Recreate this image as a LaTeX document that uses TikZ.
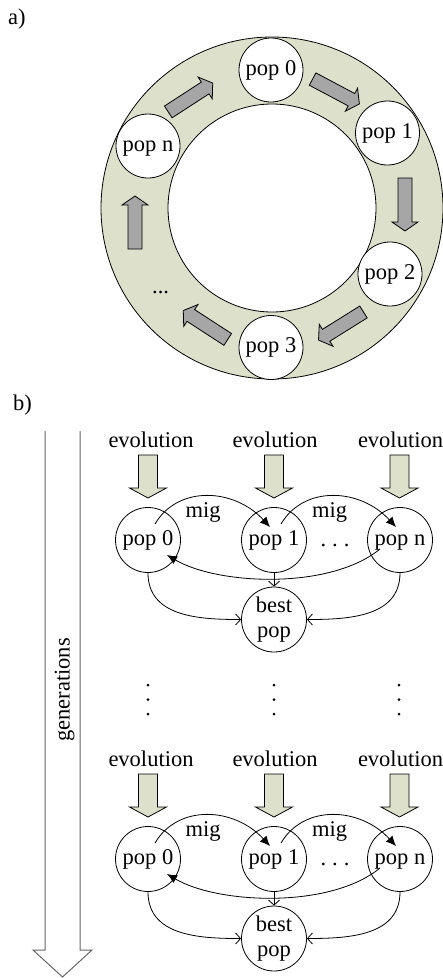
\documentclass[tikz,border=0pt]{standalone}
\usepackage{fontspec}
\setmainfont{Liberation Serif}
\usetikzlibrary{arrows.meta,calc}
\definecolor{ringfill}{HTML}{DDE0CB}
\definecolor{blockgray}{HTML}{A6A6A6}
\definecolor{gencol}{HTML}{666666}
\newcommand\blkarrow[3]{\draw[blockarrow,shift={(#1,#2)},rotate=#3] (-26.5,-7) -- (17.5,-7) -- (17.5,-13) -- (26.5,0) -- (17.5,13) -- (17.5,7) -- (-26.5,7) -- cycle;}
\begin{document}
\begin{tikzpicture}[x=1pt,y=-1pt,
  every node/.style={font=\fontsize{22.5pt}{25pt}\selectfont},
  ringpop/.style={circle,draw,fill=white,minimum size=64pt,inner sep=0pt,line width=0.8pt,text height=15pt,text depth=5pt},
  popnode/.style={circle,draw,minimum size=65pt,inner sep=0pt,line width=0.8pt,text height=15pt,text depth=5pt},
  bestnode/.style={circle,draw,minimum size=65pt,inner sep=0pt,line width=0.8pt,align=center},
  blockarrow/.style={draw,fill=blockgray,line width=0.8pt},
  evoarrow/.style={draw,fill=ringfill,line width=0.8pt},
  migarrow/.style={-{Latex[length=10pt,width=9pt]},line width=0.8pt},
  feedarrow/.style={-{Straight Barb[length=5pt,width=11pt]},line width=0.8pt},
  lbl/.style={anchor=base,inner sep=0pt},
  vdot/.style={circle,fill=black,inner sep=0pt,minimum size=3pt},
]
\useasboundingbox (0,0) rectangle (443,978);

% ---------- a) ----------
\node[anchor=base west,inner sep=0pt] (la) at (8,24) {a)};
\draw[fill=ringfill,line width=0.8pt] (272,208) circle[radius=171pt];
\draw[fill=white,line width=0.8pt] (272,208) circle[radius=104pt];

\blkarrow{336}{91.5}{-28}
\blkarrow{405}{204.5}{-90}
\blkarrow{341}{326}{-148}
\blkarrow{205.5}{325}{147}
\blkarrow{135}{222.5}{90}
\blkarrow{190.5}{97.5}{33}

\node[ringpop] (r0) at (271,70) {pop 0};
\node[ringpop] (r1) at (387.5,133) {pop 1};
\node[ringpop] (r2) at (390,274) {pop 2};
\node[ringpop] (r3) at (271,347.5) {pop 3};
\node[ringpop] (rn) at (148,146) {pop n};
\node[anchor=base west,inner sep=0pt] (rdots) at (152,293) {...};

% ---------- b) ----------
\node[anchor=base west,inner sep=0pt] (lb) at (13,410) {b)};
\draw[gencol,line width=1pt] (45,431) -- (45,950) -- (33,950) -- (62.5,977) -- (92,950) -- (80,950) -- (80,431);
\node[rotate=90,inner sep=0pt] (gen) at (64.5,690) {generations};

\foreach \r/\s in {0/a,319/b}{
\begin{scope}[shift={(0,\r)}]
  \node[lbl] (ev0\s) at (151,447) {evolution};
  \node[lbl] (ev1\s) at (275,447) {evolution};
  \node[lbl] (evn\s) at (400.5,447) {evolution};
  \foreach \cx in {148,274,399.5}{
    \draw[evoarrow,shift={(\cx,0)}] (-9.5,455) -- (9.5,455) -- (9.5,488) -- (18.5,488) -- (0,498) -- (-18.5,488) -- (-9.5,488) -- cycle;
  }
  \node[popnode] (p0\s) at (148,540) {pop 0};
  \node[popnode] (p1\s) at (274,540) {pop 1};
  \node[popnode] (pn\s) at (400,540) {pop n};
  \node[bestnode] (best\s) at (274,619.5) {best\\pop};
  \node[lbl] (mig0\s) at (203,517) {mig};
  \node[lbl] (mig1\s) at (329.5,517) {mig};
  \node[lbl] (dots\s) at (335,546) {.\kern6pt.\kern6pt.};

  \draw[migarrow] ($(p0\s.center)+(7,-16)$) .. controls ($(p0\s.center)+(30,-55)$) and ($(p1\s.center)+(-40,-52)$) .. ($(p1\s.center)+(-4,-13)$);
  \draw[migarrow] ($(p1\s.center)+(7,-16)$) .. controls ($(p1\s.center)+(30,-55)$) and ($(pn\s.center)+(-40,-52)$) .. ($(pn\s.center)+(-4,-13)$);
  \draw[migarrow] ($(pn\s.center)+(-20,9)$) .. controls ($(pn\s.center)+(-70,50)$) and ($(p0\s.center)+(70,45)$) .. ($(p0\s.center)+(19,15)$);

  \draw[feedarrow] (p1\s.south) -- (best\s.north);
  \draw[feedarrow] (p0\s.south) .. controls ($(p0\s.south)+(0,44)$) and ($(best\s.west)+(-42,0)$) .. (best\s.west);
  \draw[feedarrow] (pn\s.south) .. controls ($(pn\s.south)+(0,44)$) and ($(best\s.east)+(42,0)$) .. (best\s.east);
\end{scope}
}

% vertical dots between the rows
\foreach \dx [count=\i] in {148,274,399}{
  \foreach \dy [count=\j] in {685,699.5,714}{
    \node[vdot] (vd\i\j) at (\dx,\dy) {};
  }
}
\end{tikzpicture}
\end{document}
